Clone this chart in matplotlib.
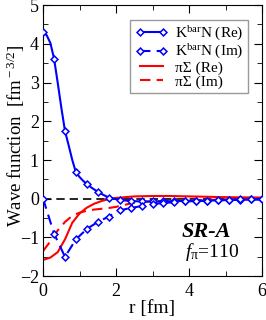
import matplotlib.pyplot as plt
from matplotlib.ticker import MultipleLocator

plt.rcParams['font.family'] = ['Liberation Serif', 'DejaVu Serif']
plt.rcParams['mathtext.fontset'] = 'custom'
plt.rcParams['mathtext.rm'] = 'Liberation Serif'
plt.rcParams['mathtext.it'] = 'Liberation Serif:italic'
plt.rcParams['mathtext.bf'] = 'Liberation Serif:bold'

# KbarN real part: smooth line (fine grid) and markers (0.3 fm grid)
r_line = [0, 0.1, 0.2, 0.3, 0.4, 0.5, 0.6, 0.7, 0.8, 0.9, 1.0, 1.1, 1.2, 1.35, 1.5, 1.65, 1.8,
          2.1, 2.4, 2.7, 3.0, 3.3, 3.6, 3.9, 4.2, 4.5, 4.8, 5.1, 5.4, 5.7, 6.0]
kre_line = [4.3, 4.22, 4.02, 3.62, 3.0, 2.35, 1.75, 1.38, 1.0, 0.68, 0.56, 0.46, 0.38, 0.27, 0.18, 0.1, 0.03,
            -0.03, -0.06, -0.07, -0.07, -0.07, -0.06, -0.06, -0.05, -0.05, -0.04, -0.03, -0.03, -0.02, -0.02]
r_mark = [0, 0.3, 0.6, 0.9, 1.2, 1.5, 1.8, 2.1, 2.4, 2.7, 3.0, 3.3, 3.6, 3.9, 4.2, 4.5, 4.8, 5.1, 5.4, 5.7, 6.0]
kre_mark = [4.3, 3.62, 1.75, 0.68, 0.38, 0.18, 0.03, -0.03, -0.06, -0.07, -0.07, -0.07, -0.06, -0.06,
            -0.05, -0.05, -0.04, -0.03, -0.03, -0.02, -0.02]
kim_mark = [0, -0.9, -1.5, -1.05, -0.78, -0.6, -0.46, -0.3, -0.24, -0.19, -0.14, -0.11, -0.09, -0.07,
            -0.06, -0.05, -0.04, -0.03, -0.02, -0.02, -0.01]

# piSigma
r_ps = [0, 0.2, 0.4, 0.6, 0.8, 1.0, 1.2, 1.4, 1.6, 1.8, 2.0, 2.5, 3.0, 3.5, 4.0, 5.0, 6.0]
ps_re = [-1.58, -1.52, -1.38, -1.05, -0.62, -0.38, -0.23, -0.13, -0.06, -0.01, 0.02, 0.06, 0.07, 0.07,
         0.06, 0.04, 0.03]
ps_im = [-1.35, -1.1, -0.82, -0.6, -0.44, -0.36, -0.31, -0.28, -0.26, -0.24, -0.21, -0.1, -0.07, -0.05,
         -0.04, -0.02, -0.01]

blue = '#0000ff'
dash = (0, (5, 3))
fig = plt.figure(figsize=(2.66, 3.2), dpi=100)
ax = fig.add_axes([0.162, 0.137, 0.823, 0.847])

ax.axhline(0, color='black', ls=dash, lw=1.2, zorder=1)
ax.plot(r_line, kre_line, color=blue, lw=1.5, zorder=3)
ax.plot(r_mark, kim_mark, color=blue, lw=1.5, ls=dash, zorder=3)
ax.plot(r_mark, kre_mark, ls='none', marker='D', ms=3.5, mfc='white', mec=blue, mew=1.1, zorder=4)
ax.plot(r_mark, kim_mark, ls='none', marker='D', ms=3.5, mfc='white', mec=blue, mew=1.1, zorder=4)
ax.plot(r_ps, ps_re, color='red', lw=1.5, zorder=2)
ax.plot(r_ps, ps_im, color='red', lw=1.5, ls=dash, zorder=2)

h1, = ax.plot([], [], color=blue, lw=1.5, marker='D', ms=3.5, mfc='white', mec=blue, mew=1.1)
h2, = ax.plot([], [], color=blue, lw=1.5, ls=dash, marker='D', ms=3.5, mfc='white', mec=blue, mew=1.1)
h3, = ax.plot([], [], color='red', lw=1.5)
h4, = ax.plot([], [], color='red', lw=1.5, ls=dash)
leg = ax.legend([h1, h2, h3, h4],
                [r'K$^{\rm bar}$N (Re)', r'K$^{\rm bar}$N (Im)', 'πΣ (Re)', 'πΣ (Im)'],
                loc='upper right', bbox_to_anchor=(0.935, 0.945), fontsize=11, fancybox=False,
                edgecolor='#999999', framealpha=1, handlelength=2.1, borderpad=0.3,
                labelspacing=0.0, handletextpad=0.5, numpoints=2, borderaxespad=0)
leg.get_frame().set_linewidth(1.0)

ax.text(0.744, 0.162, 'SR-A', transform=ax.transAxes, ha='center', va='center',
        fontsize=16, fontweight='bold', fontstyle='italic')
ax.text(0.77, 0.089, r'$f_{\rm π}$=110', transform=ax.transAxes, ha='center', va='center', fontsize=14)

ax.set_xlim(0, 6)
ax.set_ylim(-2, 5)
ax.xaxis.set_major_locator(MultipleLocator(2))
ax.xaxis.set_minor_locator(MultipleLocator(1))
ax.yaxis.set_major_locator(MultipleLocator(1))
ax.yaxis.set_minor_locator(MultipleLocator(0.5))
ax.tick_params(which='both', direction='in', top=True, right=True, labelsize=13)
ax.tick_params(axis='x', which='both', pad=5)
ax.tick_params(axis='y', which='both', pad=3)
ax.tick_params(which='major', length=6)
ax.tick_params(which='minor', length=3.5)
ax.set_xlabel('r [fm]', fontsize=14, labelpad=0)
ax.set_ylabel(r'Wave function  [fm$^{\rm -3/2}$]', fontsize=13.5, va='center')
ax.yaxis.set_label_coords(-0.125, 0.52)

fig.savefig('out.png', dpi=100)
